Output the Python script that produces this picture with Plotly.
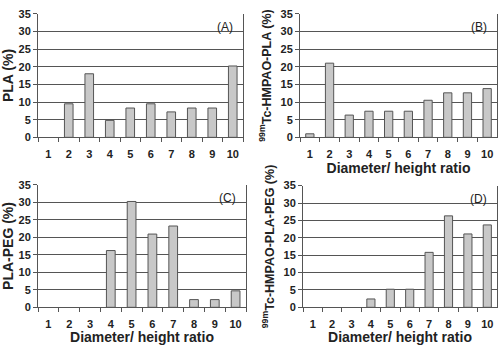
import plotly.graph_objects as go

categories = ["1", "2", "3", "4", "5", "6", "7", "8", "9", "10"]
pla = [0, 9.5, 18, 4.8, 8.3, 9.5, 7.2, 8.3, 8.3, 20.2]
tc_pla = [1.0, 21, 6.3, 7.4, 7.4, 7.4, 10.5, 12.6, 12.6, 13.8]
pla_peg = [0, 0, 0, 16.2, 30.2, 20.9, 23.2, 2.2, 2.2, 4.7]
tc_pla_peg = [0, 0, 0, 2.4, 5.2, 5.2, 15.8, 26.3, 21.1, 23.7]
y_ticks = [0, 5, 10, 15, 20, 25, 30, 35]

panels = [
    ("(A)", pla, "PLA (%)", None),
    ("(B)", tc_pla, "<sup>99m</sup>Tc-HMPAO-PLA (%)", "Diameter/ height ratio"),
    ("(C)", pla_peg, "PLA-PEG (%)", "Diameter/ height ratio"),
    ("(D)", tc_pla_peg, "<sup>99m</sup>Tc-HMPAO-PLA-PEG (%)", "Diameter/ height ratio"),
]
domains = [
    ([38/498, 243/498], [1-136/350, 1-8/350]),
    ([300/498, 497/498], [1-136/350, 1-8/350]),
    ([38/498, 246/498], [1-312/350, 1-185/350]),
    ([303/498, 497/498], [1-312/350, 1-186/350]),
]

FONT = "Liberation Sans, Arial, sans-serif"
fig = go.Figure()
layout = {}
for i, ((label, vals, ytitle, xtitle), (xd, yd)) in enumerate(zip(panels, domains)):
    n = "" if i == 0 else str(i + 1)
    fig.add_trace(go.Bar(
        x=categories, y=vals, xaxis="x" + n, yaxis="y" + n,
        marker=dict(color="#c8c8c8",
                    line=dict(color="#555555", width=[1 if v > 0 else 0 for v in vals])),
        width=0.42, showlegend=False,
    ))
    layout["xaxis" + n] = dict(
        domain=xd, anchor="y" + n, type="category",
        tickson="boundaries", ticks="outside", ticklen=4, tickcolor="#555555",
        tickangle=0, ticklabelstandoff=6,
        showline=True, linecolor="#555555", linewidth=1,
        showgrid=False,
        tickfont=dict(family=FONT, size=11, color="#222222", weight="bold"),
        title=dict(text=xtitle, font=dict(family=FONT, size=14, color="#222222", weight="bold"), standoff=2) if xtitle else None,
    )
    long_title = "Tc" in ytitle
    layout["yaxis" + n] = dict(
        domain=yd, anchor="x" + n, range=[0, 35], tickvals=y_ticks,
        ticks="outside", ticklen=4, tickcolor="#555555",
        showline=True, linecolor="#555555", linewidth=1, mirror=True,
        showgrid=True, gridcolor="#555555", gridwidth=1,
        zeroline=False,
        tickfont=dict(family=FONT, size=11, color="#222222", weight="bold"),
        title=dict(text=ytitle, font=dict(family=FONT, size=12.5 if long_title else 14,
                                          color="#222222", weight="bold"), standoff=6),
    )
    fig.add_annotation(
        text=label, xref="x" + n + " domain", yref="y" + n + " domain",
        x=0.96, y=0.89, xanchor="right", yanchor="middle", showarrow=False,
        font=dict(family=FONT, size=12, color="#222222"),
    )

fig.update_layout(
    width=498, height=350, margin=dict(l=0, r=0, t=0, b=0),
    paper_bgcolor="white", plot_bgcolor="white",
    **layout,
)
fig.write_html("out.html")
